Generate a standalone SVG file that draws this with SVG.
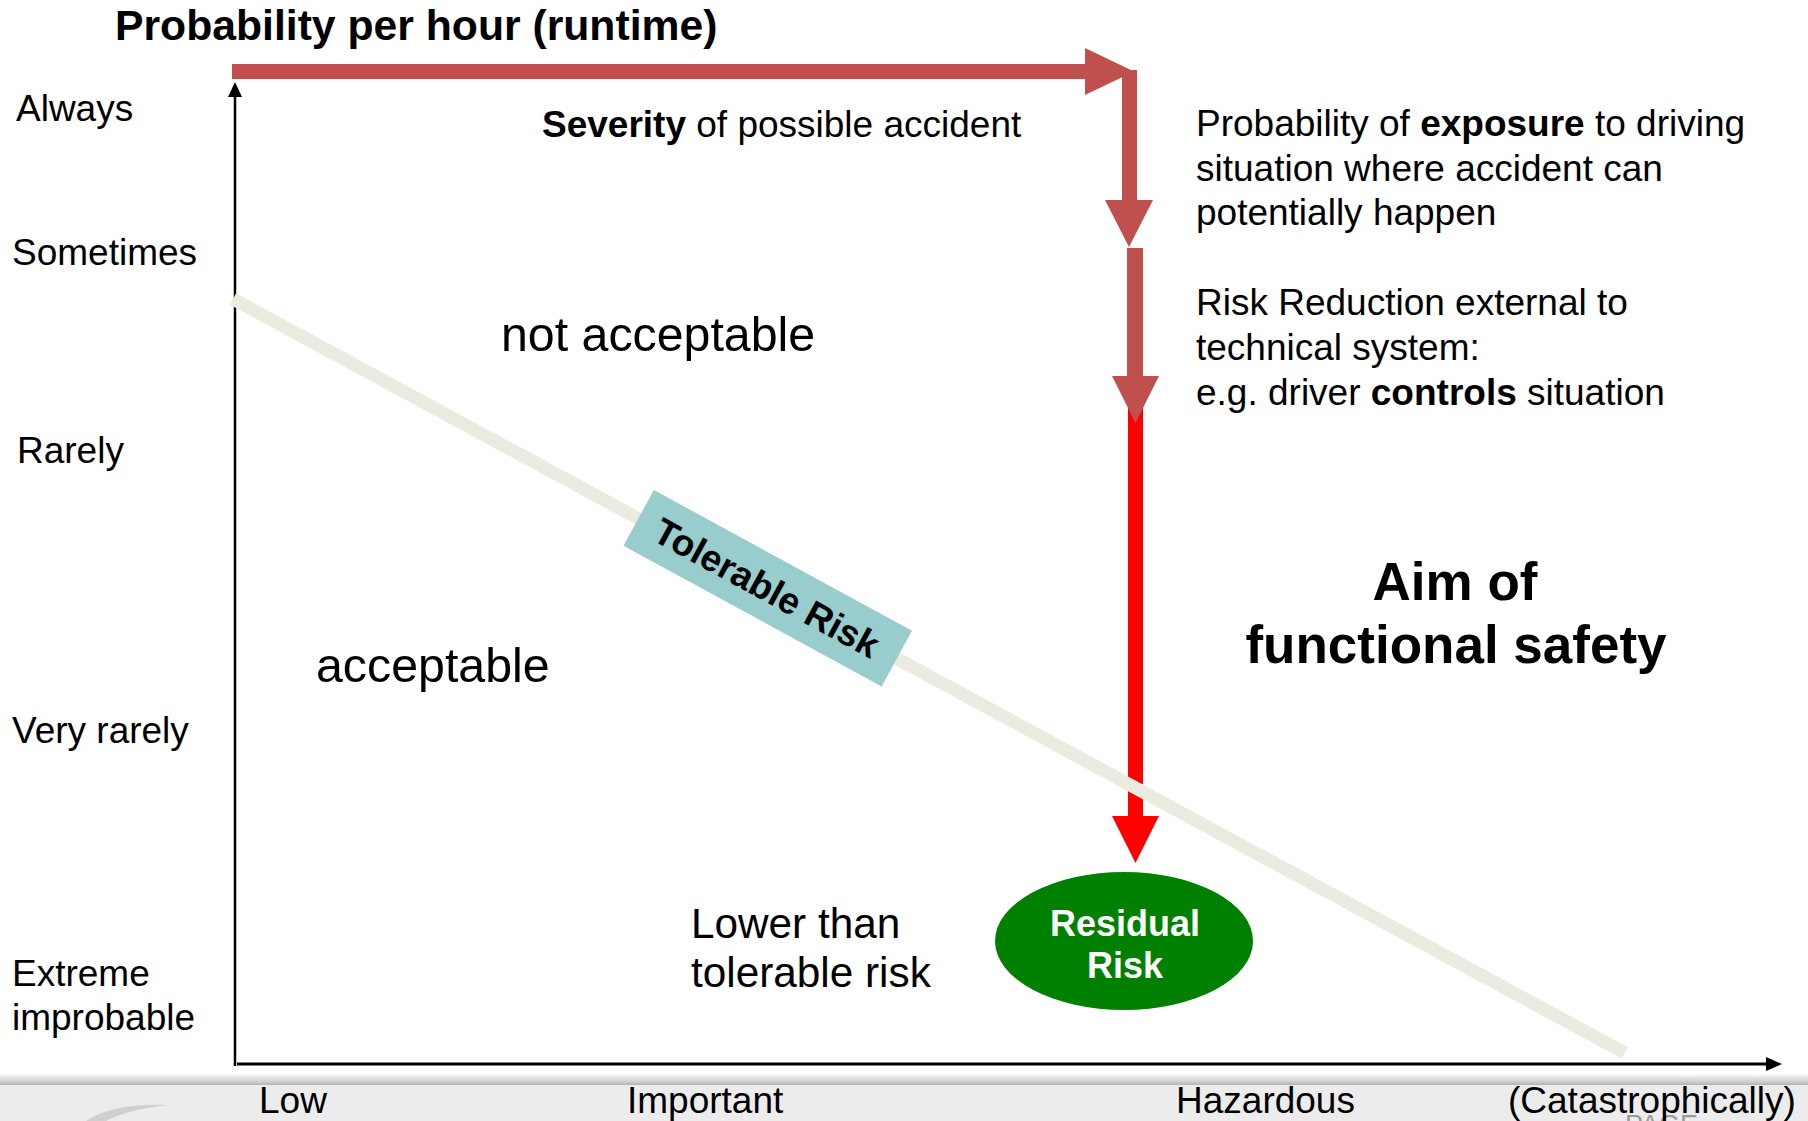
<svg xmlns="http://www.w3.org/2000/svg" width="1808" height="1121" viewBox="0 0 1808 1121">
  <defs>
    <linearGradient id="bandShade" x1="0" y1="0" x2="0" y2="1">
      <stop offset="0" stop-color="#fbfbfb"/>
      <stop offset="0.6" stop-color="#d2d2d2"/>
      <stop offset="1" stop-color="#a9a9a9"/>
    </linearGradient>
    <style>
      text { font-family: "Liberation Sans", Arial, sans-serif; fill: #000; }
      .lbl { font-size: 37px; }
      .note { font-size: 37px; }
      .b { font-weight: bold; }
      .brick { fill: #c0504d; }
      .hot { fill: #ff0000; }
      .axis { stroke: #000; fill: none; }
    </style>
  </defs>

  <rect width="1808" height="1121" fill="#ffffff"/>

  <!-- footer band -->
  <g id="footer">
    <rect x="0" y="1074" width="1808" height="12" fill="url(#bandShade)"/>
    <rect x="0" y="1085" width="1808" height="36" fill="#ececec"/>
    <path d="M 86 1121 Q 112 1103 168 1105 Q 126 1110 106 1121 Z" fill="#cfcfcf"/>
    <text x="1625" y="1134" font-size="27" style="fill:#9a9a9a">PAGE</text>
  </g>

  <!-- axes -->
  <g id="axes">
    <line class="axis" x1="235" y1="95" x2="235" y2="1066" stroke-width="2.5"/>
    <polygon points="235,82 228,97 242,97" fill="#000"/>
    <line class="axis" x1="237" y1="1064" x2="1768" y2="1064" stroke-width="3"/>
    <polygon points="1782,1064 1766,1057 1766,1071" fill="#000"/>
  </g>

  <!-- connectors: severity, exposure and risk-reduction arrows -->
  <g id="connectors">
    <rect class="brick" x="232" y="64" width="856" height="15"/>
    <polygon class="brick" points="1085,48 1134,71.5 1085,95"/>
    <rect class="brick" x="1122" y="70" width="15" height="132"/>
    <polygon class="brick" points="1105,200 1153,200 1129,247"/>
    <rect class="hot" x="1128" y="400" width="15" height="418"/>
    <polygon class="hot" points="1112,816 1159,816 1135.5,863"/>
    <rect class="brick" x="1127" y="248" width="16" height="130"/>
    <polygon class="brick" points="1112,376 1159,376 1135.5,423"/>
  </g>

  <!-- tolerable risk boundary -->
  <g id="tolerable-line">
    <line x1="233" y1="299" x2="1625" y2="1053" stroke="#ecebe0" stroke-width="13"/>
  </g>

  <g id="tolerable-risk" transform="translate(767.75,588.25) rotate(28.6)">
    <rect x="-147" y="-31.75" width="294" height="63.5" fill="#99cccc"/>
    <text x="-1" y="13" text-anchor="middle" font-size="37" class="b">Tolerable Risk</text>
  </g>

  <g id="residual-risk">
    <ellipse cx="1124" cy="941" rx="129" ry="69" fill="#008000"/>
    <text x="1125" y="936" text-anchor="middle" font-size="36" class="b" style="fill:#ffffff">Residual</text>
    <text x="1125" y="978" text-anchor="middle" font-size="36" class="b" style="fill:#ffffff">Risk</text>
  </g>

  <!-- title -->
  <g id="title">
    <text x="115" y="40" font-size="42.7" class="b">Probability per hour (runtime)</text>
  </g>

  <!-- probability levels -->
  <g id="y-labels">
    <text class="lbl" x="16" y="121">Always</text>
    <text class="lbl" x="12" y="265">Sometimes</text>
    <text class="lbl" x="17" y="463">Rarely</text>
    <text class="lbl" x="12" y="743">Very rarely</text>
    <text class="lbl" x="12" y="986">Extreme</text>
    <text class="lbl" x="12" y="1030">improbable</text>
  </g>

  <!-- severity levels -->
  <g id="x-labels">
    <text class="lbl" x="259" y="1113">Low</text>
    <text class="lbl" x="627" y="1113">Important</text>
    <text class="lbl" x="1176" y="1113">Hazardous</text>
    <text class="lbl" x="1508" y="1113">(Catastrophically)</text>
  </g>

  <g id="severity-label">
    <text class="note" x="542" y="137"><tspan class="b">Severity</tspan> of possible accident</text>
  </g>

  <g id="exposure-label">
    <text class="note" x="1196" y="136"><tspan>Probability of </tspan><tspan class="b">exposure</tspan><tspan> to driving</tspan></text>
    <text class="note" x="1196" y="181">situation where accident can</text>
    <text class="note" x="1196" y="225">potentially happen</text>
  </g>

  <g id="controllability-label">
    <text class="note" x="1196" y="315">Risk Reduction external to</text>
    <text class="note" x="1196" y="360">technical system:</text>
    <text class="note" x="1196" y="405">e.g. driver <tspan class="b">controls</tspan> situation</text>
  </g>

  <g id="regions">
    <text x="501" y="351" font-size="48.3">not acceptable</text>
    <text x="316" y="682" font-size="48.3">acceptable</text>
    <text x="691" y="937.5" font-size="42.3">Lower than</text>
    <text x="691" y="987" font-size="42.3">tolerable risk</text>
  </g>

  <g id="aim">
    <text x="1455" y="600" text-anchor="middle" font-size="53" class="b">Aim of</text>
    <text x="1456" y="663" text-anchor="middle" font-size="53" class="b">functional safety</text>
  </g>
</svg>
